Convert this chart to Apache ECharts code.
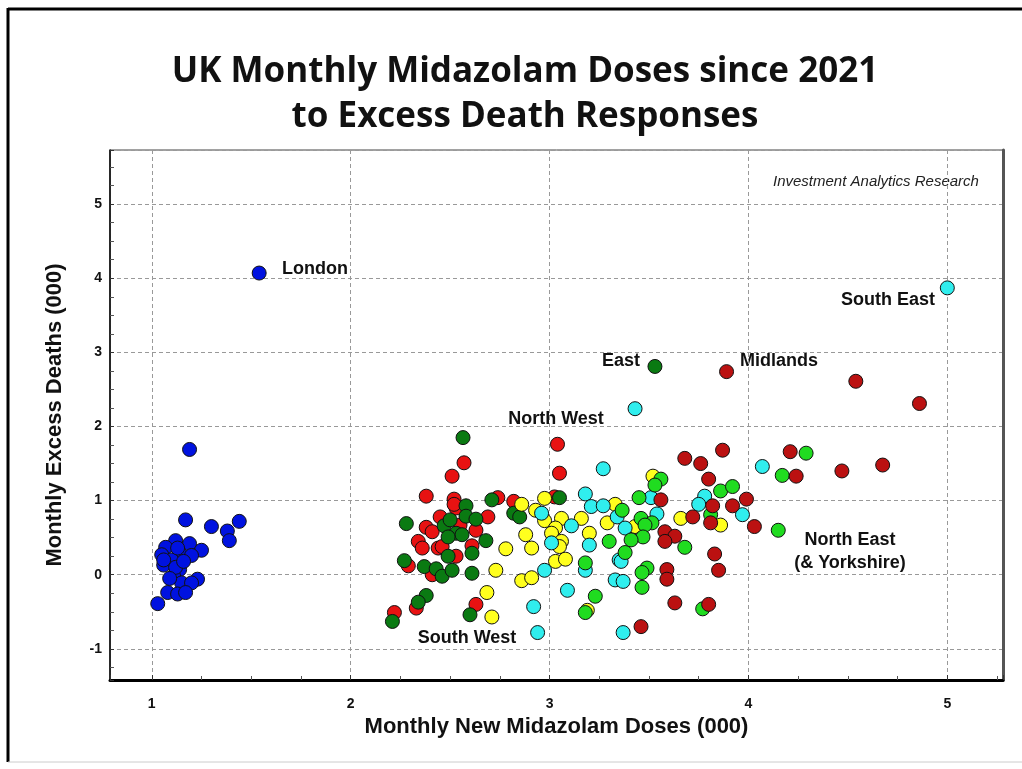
<!DOCTYPE html>
<html>
<head>
<meta charset="utf-8">
<title>UK Monthly Midazolam Doses</title>
<script src="https://cdn.jsdelivr.net/npm/echarts@6/dist/echarts.min.js"></script>
<style>
  html, body { margin: 0; padding: 0; background: #fff; }
  #chart { width: 1022px; height: 769px; }
</style>
</head>
<body>
<div id="chart"></div>
<script>
// monthly new midazolam doses (000) vs monthly excess deaths (000), per region
const london = [
  [1.54, 4.07], [1.19, 1.69], [1.17, 0.74], [1.30, 0.65], [1.44, 0.72], [1.38, 0.59],
  [1.39, 0.46], [1.12, 0.46], [1.07, 0.37], [1.19, 0.42], [1.25, 0.33], [1.05, 0.27],
  [1.14, 0.29], [1.20, 0.26], [1.06, 0.13], [1.14, 0.07], [1.11, -0.02], [1.23, -0.06],
  [1.15, -0.11], [1.20, -0.11], [1.08, -0.24], [1.13, -0.26], [1.17, -0.24], [1.03, -0.39],
  [1.10, 0.20], [1.12, 0.10], [1.16, 0.18], [1.09, -0.05], [1.13, 0.36], [1.06, 0.20]
];
const northWest = [
  [3.04, 1.76], [3.05, 1.37], [2.57, 1.51], [2.51, 1.33], [2.38, 1.06], [2.52, 1.02],
  [2.74, 1.04], [2.53, 0.90], [2.45, 0.78], [2.69, 0.78], [2.38, 0.64], [2.41, 0.58],
  [2.55, 0.67], [2.63, 0.60], [2.34, 0.45], [2.36, 0.36], [2.44, 0.36], [2.46, 0.38],
  [2.61, 0.39], [2.53, 0.25], [2.29, 0.12], [2.41, 0.00], [2.33, -0.45], [2.22, -0.51],
  [2.63, -0.40], [2.82, 0.99], [3.025, 1.05], [2.52, 0.95]
];
const east = [
  [3.53, 2.81], [2.565, 1.85], [2.71, 1.01], [2.58, 0.93], [2.58, 0.79], [2.63, 0.75],
  [2.28, 0.69], [2.47, 0.66], [2.50, 0.74], [2.53, 0.56], [2.56, 0.54], [2.49, 0.51],
  [2.68, 0.46], [2.61, 0.29], [2.49, 0.25], [2.27, 0.19], [2.37, 0.11], [2.43, 0.08],
  [2.46, -0.02], [2.51, 0.06], [2.61, 0.02], [2.38, -0.28], [2.34, -0.37], [2.21, -0.63],
  [2.60, -0.54], [2.82, 0.83], [2.85, 0.78], [3.05, 1.04]
];
const southWest = [
  [2.78, 0.35], [2.73, 0.06], [2.685, -0.24], [2.71, -0.57], [2.86, 0.95], [2.975, 1.03],
  [3.33, 0.95], [2.93, 0.87], [2.975, 0.73], [3.06, 0.76], [3.16, 0.76], [3.03, 0.63],
  [3.29, 0.70], [2.88, 0.54], [3.20, 0.56], [3.01, 0.56], [3.06, 0.45], [3.05, 0.38],
  [2.91, 0.36], [3.03, 0.18], [3.08, 0.21], [2.86, -0.08], [2.91, -0.04], [3.19, -0.48],
  [3.52, 1.33], [3.66, 0.76], [3.86, 0.67], [3.43, 0.65]
];
const southEast = [
  [5.00, 3.87], [3.43, 2.24], [3.18, 1.09], [3.27, 1.43], [3.21, 0.92], [3.27, 0.93],
  [3.34, 0.78], [2.96, 0.83], [3.11, 0.66], [3.38, 0.63], [3.01, 0.43], [3.20, 0.40],
  [3.35, 0.20], [3.18, 0.06], [2.975, 0.06], [3.33, -0.07], [3.37, -0.09], [3.09, -0.21],
  [2.92, -0.43], [2.94, -0.78], [3.37, -0.78], [3.51, 1.04], [3.78, 1.06], [3.75, 0.95],
  [3.97, 0.81], [3.54, 0.82], [4.07, 1.46], [3.36, 0.18]
];
const northEast = [
  [3.365, 0.87], [3.30, 0.45], [3.38, 0.30], [3.18, 0.16], [3.23, -0.29], [3.18, -0.51],
  [3.56, 1.29], [3.53, 1.21], [3.45, 1.04], [3.86, 1.13], [3.92, 1.19], [3.81, 0.81],
  [3.46, 0.76], [3.515, 0.70], [3.48, 0.67], [3.47, 0.51], [3.41, 0.47], [3.68, 0.37],
  [3.49, 0.09], [3.465, 0.03], [3.465, -0.17], [3.77, -0.46], [4.29, 1.64], [4.17, 1.34],
  [4.15, 0.60]
];
const midlands = [
  [3.89, 2.74], [4.54, 2.61], [4.86, 2.31], [3.87, 1.68], [3.68, 1.57], [3.76, 1.50],
  [3.80, 1.29], [3.56, 1.01], [3.82, 0.93], [3.92, 0.93], [3.99, 1.02], [3.81, 0.70],
  [3.72, 0.78], [3.58, 0.58], [3.63, 0.52], [3.58, 0.45], [3.83, 0.28], [3.85, 0.06],
  [3.59, 0.07], [3.59, -0.06], [3.63, -0.38], [3.80, -0.40], [3.46, -0.70], [4.21, 1.66],
  [4.24, 1.33], [4.47, 1.40], [4.675, 1.48], [4.03, 0.65]
];

const chart = echarts.init(document.getElementById('chart'));

const labelFont = 'bold 18px "Liberation Sans", Arial, sans-serif';

function region(name, data, color) {
  return {
    name: name,
    type: 'scatter',
    data: data,
    symbolSize: 14,
    itemStyle: { color: color, borderColor: '#111', borderWidth: 1, opacity: 1 },
    emphasis: { disabled: true }
  };
}

const option = {
  backgroundColor: '#fff',
  animation: false,
  title: {
    text: 'UK Monthly Midazolam Doses since 2021\nto Excess Death Responses',
    left: 520,
    top: 45,
    textAlign: 'center',
    textStyle: {
      fontFamily: '"Open Sans", sans-serif',
      fontWeight: 'bold',
      fontSize: 35,
      lineHeight: 45,
      color: '#111'
    }
  },
  grid: {
    left: 110, right: 19, top: 150, bottom: 89,
    show: true, borderColor: '#444', borderWidth: 1
  },
  xAxis: {
    type: 'value',
    min: 0.79, max: 5.28, splitNumber: 4,
    name: 'Monthly New Midazolam Doses (000)',
    nameLocation: 'middle',
    nameGap: 36,
    nameTextStyle: { fontFamily: '"Liberation Sans", Arial', fontWeight: 'bold', fontSize: 22, color: '#111' },
    axisLine: { onZero: false, lineStyle: { color: '#000', width: 3 } },
    axisTick: { inside: true, length: 5, lineStyle: { color: '#333' } },
    minorTick: { show: true, splitNumber: 4, length: 4, lineStyle: { color: '#555' } },
    axisLabel: {
      margin: 17, showMinLabel: false, showMaxLabel: false,
      fontFamily: '"Liberation Sans", Arial', fontWeight: 'bold', fontSize: 14, color: '#111'
    },
    splitLine: { show: true, lineStyle: { color: '#999', type: [4, 3] } }
  },
  yAxis: [{
    type: 'value',
    min: -1.42, max: 5.73, splitNumber: 7,
    name: 'Monthly Excess Deaths (000)',
    nameLocation: 'middle',
    nameGap: 44,
    nameTextStyle: { fontFamily: '"Liberation Sans", Arial', fontWeight: 'bold', fontSize: 22, color: '#111' },
    axisLine: { show: true, onZero: false, lineStyle: { color: '#000', width: 1.5 } },
    axisTick: { inside: true, length: 4, lineStyle: { color: '#333' } },
    minorTick: { show: true, splitNumber: 4, length: 4, lineStyle: { color: '#555' } },
    axisLabel: {
      margin: 8, showMinLabel: false, showMaxLabel: false,
      fontFamily: '"Liberation Sans", Arial', fontWeight: 'bold', fontSize: 14, color: '#111'
    },
    splitLine: { show: true, lineStyle: { color: '#999', type: [4, 3] } }
  }, {
    type: 'value',
    position: 'right',
    min: -1.42, max: 5.73,
    axisLine: { show: true, onZero: false, lineStyle: { color: '#555', width: 3 } },
    axisTick: { show: false },
    axisLabel: { show: false },
    splitLine: { show: false }
  }],
  series: [
    region('North West', northWest, '#e81212'),
    region('East', east, '#0a7a12'),
    region('South West', southWest, '#ffff1e'),
    region('South East', southEast, '#30eeee'),
    region('North East', northEast, '#20dc20'),
    region('Midlands', midlands, '#bb1111'),
    region('London', london, '#0012e0')
  ],
  graphic: [
    // outer frame
    { type: 'line', shape: { x1: 8, y1: 9, x2: 1022, y2: 9 }, style: { stroke: '#000', lineWidth: 3 } },
    { type: 'line', shape: { x1: 8, y1: 8, x2: 8, y2: 762 }, style: { stroke: '#000', lineWidth: 3 } },
    { type: 'line', shape: { x1: 8, y1: 762, x2: 1022, y2: 762 }, style: { stroke: '#ccc', lineWidth: 1 } },
    { type: 'text', left: 773, top: 174, style: { text: 'Investment Analytics Research', font: 'italic 15px "Liberation Sans", Arial', fill: '#222' } },
    { type: 'text', x: 282, y: 269, style: { text: 'London', font: labelFont, fill: '#111', verticalAlign: 'middle' } },
    { type: 'text', x: 935, y: 300, style: { text: 'South East', font: labelFont, fill: '#111', align: 'right', verticalAlign: 'middle' } },
    { type: 'text', x: 640, y: 361, style: { text: 'East', font: labelFont, fill: '#111', align: 'right', verticalAlign: 'middle' } },
    { type: 'text', x: 740, y: 361, style: { text: 'Midlands', font: labelFont, fill: '#111', verticalAlign: 'middle' } },
    { type: 'text', x: 556, y: 419, style: { text: 'North West', font: labelFont, fill: '#111', align: 'center', verticalAlign: 'middle' } },
    { type: 'text', x: 850, y: 540, style: { text: 'North East', font: labelFont, fill: '#111', align: 'center', verticalAlign: 'middle' } },
    { type: 'text', x: 850, y: 563, style: { text: '(& Yorkshire)', font: labelFont, fill: '#111', align: 'center', verticalAlign: 'middle' } },
    { type: 'text', x: 467, y: 638, style: { text: 'South West', font: labelFont, fill: '#111', align: 'center', verticalAlign: 'middle' } }
  ]
};

chart.setOption(option);
</script>
</body>
</html>
